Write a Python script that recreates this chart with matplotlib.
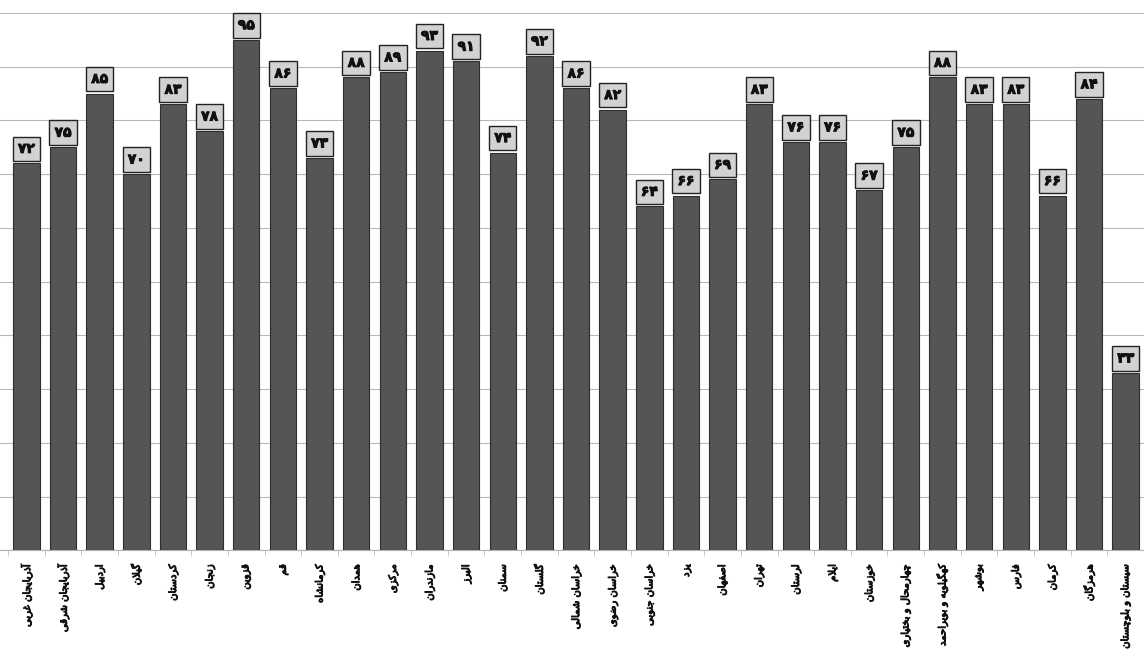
import matplotlib
matplotlib.use("Agg")
import matplotlib.pyplot as plt
import matplotlib.patheffects as pe
import numpy as np

# provinces (logical Persian order) and their scores
provinces = [
    "آذربایجان غربی", "آذربایجان شرقی", "اردبیل", "گیلان", "کردستان",
    "زنجان", "قزوین", "قم", "کرمانشاه", "همدان", "مرکزی", "مازندران",
    "البرز", "سمنان", "گلستان", "خراسان شمالی", "خراسان رضوی",
    "خراسان جنوبی", "یزد", "اصفهان", "تهران", "لرستان", "ایلام",
    "خوزستان", "چهارمحال و بختیاری", "کهگیلویه و بویراحمد", "بوشهر",
    "فارس", "کرمان", "هرمزگان", "سیستان و بلوچستان",
]
scores = [72, 75, 85, 70, 83, 78, 95, 86, 73, 88, 89, 93, 91, 74, 92,
          86, 82, 64, 66, 69, 83, 76, 76, 67, 75, 88, 83, 83, 66, 84, 33]

# matplotlib does no Arabic shaping, so map letters to presentation forms
# (isolated, final, initial, medial); two entries = letter does not join forward
FORMS = {
    'ا': (0xFE8D, 0xFE8E), 'آ': (0xFE81, 0xFE82),
    'د': (0xFEA9, 0xFEAA), 'ذ': (0xFEAB, 0xFEAC),
    'ر': (0xFEAD, 0xFEAE), 'ز': (0xFEAF, 0xFEB0),
    'و': (0xFEED, 0xFEEE),
    'ب': (0xFE8F, 0xFE90, 0xFE91, 0xFE92), 'پ': (0xFB56, 0xFB57, 0xFB58, 0xFB59),
    'ت': (0xFE95, 0xFE96, 0xFE97, 0xFE98), 'ج': (0xFE9D, 0xFE9E, 0xFE9F, 0xFEA0),
    'چ': (0xFB7A, 0xFB7B, 0xFB7C, 0xFB7D), 'ح': (0xFEA1, 0xFEA2, 0xFEA3, 0xFEA4),
    'خ': (0xFEA5, 0xFEA6, 0xFEA7, 0xFEA8), 'س': (0xFEB1, 0xFEB2, 0xFEB3, 0xFEB4),
    'ش': (0xFEB5, 0xFEB6, 0xFEB7, 0xFEB8), 'ص': (0xFEB9, 0xFEBA, 0xFEBB, 0xFEBC),
    'ض': (0xFEBD, 0xFEBE, 0xFEBF, 0xFEC0), 'غ': (0xFECD, 0xFECE, 0xFECF, 0xFED0),
    'ف': (0xFED1, 0xFED2, 0xFED3, 0xFED4), 'ق': (0xFED5, 0xFED6, 0xFED7, 0xFED8),
    'ک': (0xFB8E, 0xFB8F, 0xFB90, 0xFB91), 'گ': (0xFB92, 0xFB93, 0xFB94, 0xFB95),
    'ل': (0xFEDD, 0xFEDE, 0xFEDF, 0xFEE0), 'م': (0xFEE1, 0xFEE2, 0xFEE3, 0xFEE4),
    'ن': (0xFEE5, 0xFEE6, 0xFEE7, 0xFEE8), 'ه': (0xFEE9, 0xFEEA, 0xFEEB, 0xFEEC),
    'ی': (0xFBFC, 0xFBFD, 0xFBFE, 0xFBFF),
}


def shape(text):
    out = []
    i = 0
    while i < len(text):
        c = text[i]
        if c not in FORMS:
            out.append(c)
            i += 1
            continue
        prev = text[i - 1] if i > 0 else None
        link_prev = prev in FORMS and len(FORMS[prev]) == 4
        # lam-alef ligature
        if c == 'ل' and i + 1 < len(text) and text[i + 1] in 'اآ':
            base = 0xFEFB if text[i + 1] == 'ا' else 0xFEF5
            out.append(chr(base + 1 if link_prev else base))
            i += 2
            continue
        nxt = text[i + 1] if i + 1 < len(text) else None
        f = FORMS[c]
        link_next = len(f) == 4 and nxt in FORMS
        if link_prev and link_next:
            g = f[3]
        elif link_prev:
            g = f[1]
        elif link_next:
            g = f[2]
        else:
            g = f[0]
        out.append(chr(g))
        i += 1
    return ''.join(reversed(out))


fa_digits = str.maketrans('0123456789', '۰۱۲۳۴۵۶۷۸۹')

plt.rcParams['font.family'] = ['DejaVu Sans']
thick = [pe.withStroke(linewidth=0.7, foreground='#111111')]

fig = plt.figure(figsize=(11.44, 6.52), dpi=100)
ax = fig.add_axes([0, 0.156, 1, 0.844])

x = np.arange(len(scores))
ax.bar(x, scores, width=0.72, color='#555555', edgecolor='#2e2e2e',
       linewidth=0.8, zorder=3)

for xi, v in zip(x, scores):
    ax.text(xi, v + 1.4, str(v).translate(fa_digits), ha='center', va='bottom',
            fontsize=10, fontweight='bold', color='#111111', zorder=4,
            path_effects=thick,
            bbox=dict(boxstyle='square,pad=0.38', facecolor='#d2d2d2',
                      edgecolor='#222222', linewidth=1.0))

ax.set_xlim(-0.72, 30.32)
ax.set_ylim(0, 102.4)
ax.set_yticks(np.arange(0, 101, 10))
ax.yaxis.grid(True, color='#b8b8b8', linewidth=0.8)
ax.set_axisbelow(True)
ax.tick_params(axis='y', left=False, labelleft=False)

ax.set_xticks(x)
labels = ax.set_xticklabels([shape(p) for p in provinces], rotation=90,
                            fontsize=7.2, va='top', ha='center', color='#111111')
for t in labels:
    t.set_path_effects(thick)
ax.set_xticks(np.arange(-0.5, len(scores), 1), minor=True)
ax.tick_params(axis='x', which='major', length=0, pad=10)
ax.tick_params(axis='x', which='minor', length=4, color='#c0c0c0')

for s in ['left', 'right', 'top']:
    ax.spines[s].set_visible(False)
ax.spines['bottom'].set_color('#b0b0b0')

fig.savefig('out.png', dpi=100)
